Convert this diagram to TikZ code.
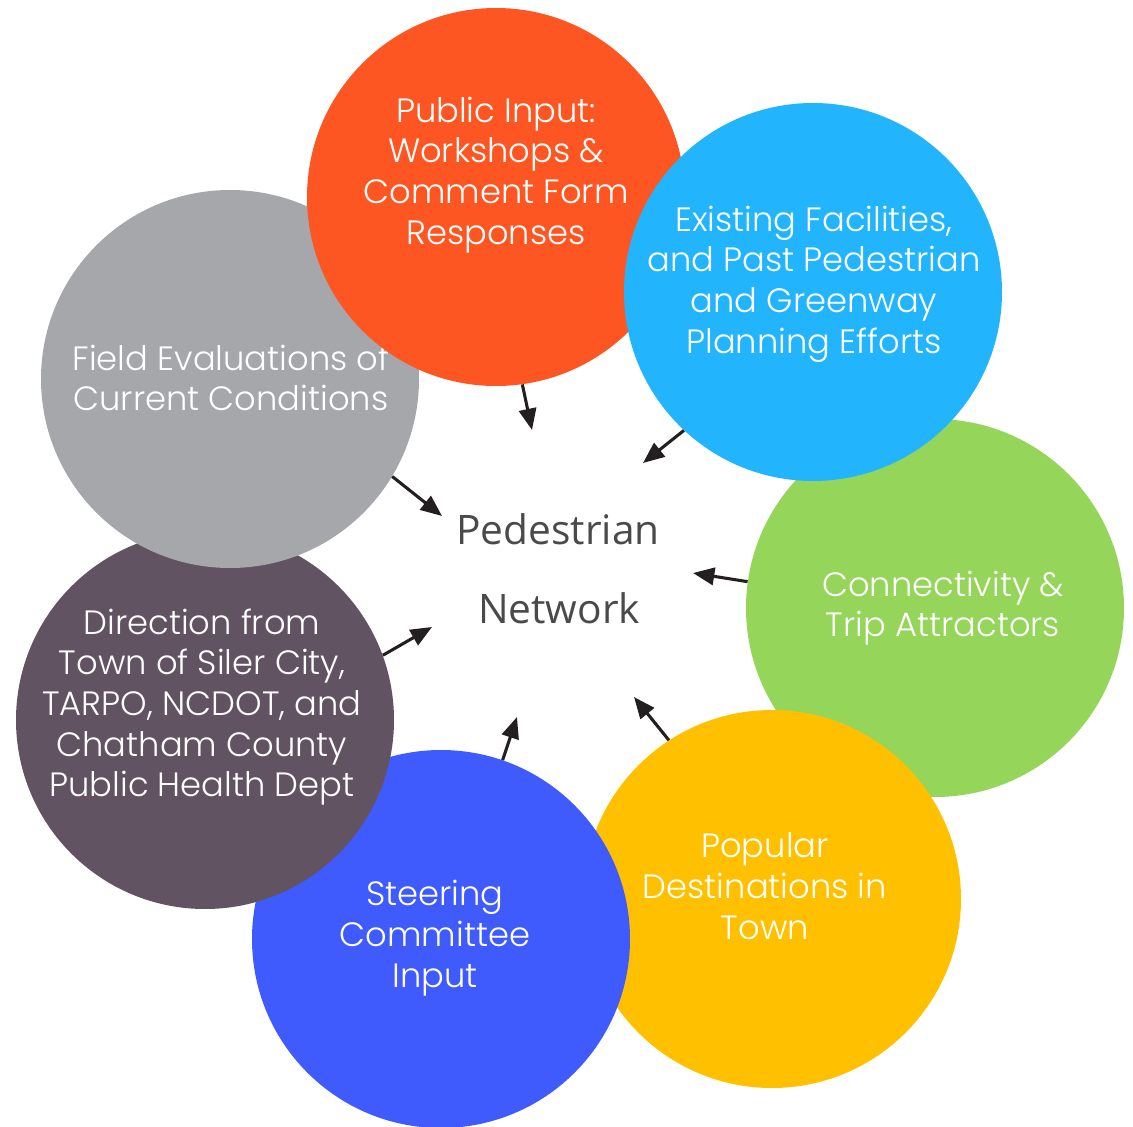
\documentclass[tikz,border=0pt]{standalone}
\usepackage{fontspec}
\setmainfont{Open Sans}
\newfontfamily\circfont{Poppins Light}
\usetikzlibrary{arrows.meta}
\definecolor{corange}{HTML}{FE5622}
\definecolor{clblue}{HTML}{22B5FE}
\definecolor{cgreen}{HTML}{95D55A}
\definecolor{cyellow}{HTML}{FFC000}
\definecolor{cblue}{HTML}{3F5BFE}
\definecolor{cpurple}{HTML}{625363}
\definecolor{cgray}{HTML}{A6A7AB}
\definecolor{ctext}{HTML}{4A4A4A}
\definecolor{carrow}{HTML}{231F20}
\begin{document}
\begin{tikzpicture}[x=0.75pt,y=-0.75pt,
  bubble/.style={circle,inner sep=0pt,minimum size=283.5pt},
  btext/.style={text=white,align=center,inner sep=0pt,font=\circfont\fontsize{25.3}{30.5}\selectfont},
  ctr/.style={text=ctext,inner sep=0pt,font=\fontsize{30.5}{36}\selectfont},
  arr/.style={line width=2.3pt,draw=carrow,-{Triangle[length=16pt,width=13pt]}}]
\useasboundingbox (0,0) rectangle (1133,1127);
% circles in stacking order
\node[bubble,fill=cgreen] (green) at (935,608) {};
\node[btext] (tgreen) at (943,608) {Connectivity \&\\Trip Attractors};
\node[bubble,fill=cyellow] (yellow) at (772,899) {};
\node[btext] (tyellow) at (765,886) {Popular\\Destinations in\\Town};
\node[bubble,fill=cblue] (steer) at (441,939) {};
\node[btext] (tsteer) at (435,938) {Steering\\Committee\\Input};
\node[bubble,fill=cpurple] (purple) at (205,720) {};
\node[btext] (tpurple) at (202,707) {Direction from\\Town of Siler City,\\TARPO, NCDOT, and\\Chatham County\\Public Health Dept};
\node[bubble,fill=cgray] (gray) at (230,379) {};
\node[btext] (tgray) at (231,378) {Field Evaluations of\\Current Conditions};
\node[bubble,fill=corange] (orange) at (496,197) {};
\node[btext] (torange) at (496,175) {Public Input:\\Workshops \&\\Comment Form\\Responses};
\node[bubble,fill=clblue] (lblue) at (813,292) {};
\node[btext] (tlblue) at (814,284) {Existing Facilities,\\and Past Pedestrian\\and Greenway\\Planning Efforts};
% centre text
\node[ctr,anchor=base] (ped) at (558,544) {Pedestrian};
\node[ctr,anchor=base] (net) at (559,623) {Network};
% arrow tips
\coordinate (e1) at (532,430);
\coordinate (e2) at (643,463);
\coordinate (e3) at (693,573);
\coordinate (e4) at (634,697);
\coordinate (e5) at (517,717);
\coordinate (e6) at (432,627);
\coordinate (e7) at (442,516);
\draw[arr] (orange.-82.4) -- (e1);
\draw[arr] (lblue.-133.5) -- (e2);
\draw[arr] (green.172.5) -- (e3);
\draw[arr] (yellow.123) -- (e4);
\draw[arr] (steer.71.9) -- (e5);
\draw[arr] (purple.20.6) -- (e6);
\draw[arr] (gray.-31.4) -- (e7);
\end{tikzpicture}
\end{document}
